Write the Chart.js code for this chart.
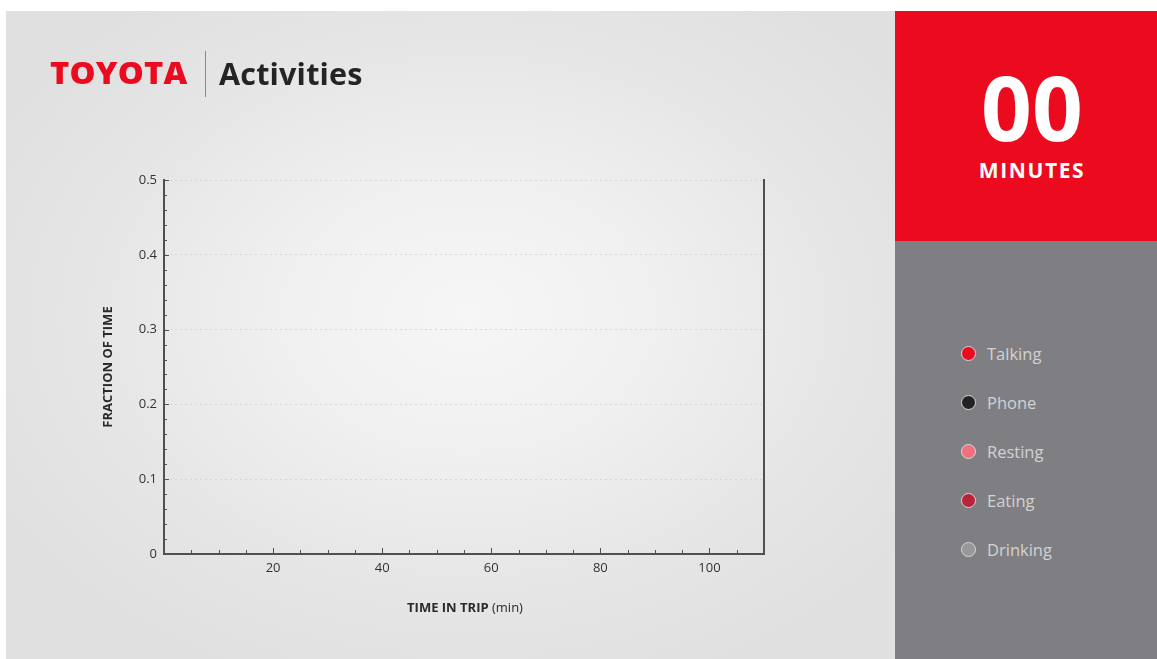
<!DOCTYPE html>
<html>
<head>
<meta charset="utf-8">
<script src="https://cdn.jsdelivr.net/npm/chart.js@4.4.1/dist/chart.umd.min.js"></script>
<style>
  html, body { margin:0; padding:0; background:#fff; width:1157px; height:659px; overflow:hidden; font-family:"Open Sans", sans-serif; }
  #left { position:absolute; left:6px; top:11px; width:889px; height:648px;
    background: radial-gradient(ellipse 60% 60% at 52% 47%, #f6f6f6 0%, #f0f0f0 35%, #e7e6e7 70%, #e1e0e1 100%); }
  #toyota { position:absolute; left:44px; top:42px; line-height:40px; color:#eb0a1e; font-weight:800; font-size:30px; letter-spacing:0.2px; transform:scaleX(1.09); transform-origin:0 50%; white-space:nowrap; }
  #sep { position:absolute; left:199px; top:40px; width:1px; height:46px; background:#8a8a8a; }
  #title { position:absolute; left:213px; top:42px; line-height:40px; color:#242424; font-weight:700; font-size:30.5px; letter-spacing:0.2px; white-space:nowrap; }
  #chartWrap { position:absolute; left:0; top:0; width:889px; height:648px; }
  #red { position:absolute; left:895px; top:11px; width:262px; height:230px; background:#ec0a1f; color:#fff; text-align:center; }
  #count { position:absolute; left:6px; width:262px; top:53px; font-size:89px; font-weight:700; line-height:86px; letter-spacing:0px; }
  #mins { position:absolute; left:6px; width:262px; top:147px; font-size:21px; font-weight:700; line-height:24px; letter-spacing:1.6px; }
  #grey { position:absolute; left:895px; top:241px; width:262px; height:418px; background:#7f7f83; }
  .li { position:absolute; left:66px; height:20px; display:flex; align-items:center; color:#d2d2d2; font-size:16.5px; }
  .dot { width:13px; height:13px; border-radius:50%; border:1.5px solid #d8d8d8; margin-right:11px; box-sizing:content-box; }
</style>
</head>
<body>
<div id="left">
  <div id="chartWrap"><canvas id="c" width="889" height="648"></canvas></div>
  <span id="toyota">TOYOTA</span><span id="sep"></span><span id="title">Activities</span>
</div>
<div id="red"><div id="count">00</div><div id="mins">MINUTES</div></div>
<div id="grey"></div>
<script>
// ---- data ----
const seriesNames = ["Talking", "Phone", "Resting", "Eating", "Drinking"];
const seriesColors = ["#ec0a1f", "#222224", "#f2707e", "#b8223a", "#98989a"];
// At 00 minutes no activity data has been plotted yet
const talkingValues = [];
const phoneValues = [];
const restingValues = [];
const eatingValues = [];
const drinkingValues = [];
const xTickLabels = [20, 40, 60, 80, 100];
const yTickLabels = [0, 0.1, 0.2, 0.3, 0.4, 0.5];
const minutesShown = "00";

const seriesValues = [talkingValues, phoneValues, restingValues, eatingValues, drinkingValues];
document.getElementById('count').textContent = minutesShown;

const axisColor = '#505050';
const near = (a, b) => Math.abs(a - b) < 1e-6;

const ticksPlugin = {
  id: 'innerTicks',
  afterDraw(chart) {
    const ctx = chart.ctx, xs = chart.scales.x, ys = chart.scales.y;
    ctx.save();
    ctx.strokeStyle = axisColor;
    ctx.lineWidth = 1;
    const bottom = ys.getPixelForValue(0), left = xs.getPixelForValue(0);
    for (let v = 5; v < 110; v += 5) {
      const px = Math.round(xs.getPixelForValue(v)) + 0.5;
      const len = xTickLabels.includes(v) ? 6 : 4;
      ctx.beginPath(); ctx.moveTo(px, bottom); ctx.lineTo(px, bottom - len); ctx.stroke();
    }
    for (let i = 1; i <= 25; i++) {
      const v = i * 0.02;
      const py = Math.round(ys.getPixelForValue(v)) + 0.5;
      const major = yTickLabels.some(t => near(t, v));
      ctx.beginPath(); ctx.moveTo(left, py); ctx.lineTo(left + (major ? 5 : 3), py); ctx.stroke();
    }
    // x-axis title (mixed weight)
    const cx = (xs.left + xs.right) / 2 + 1;
    const ty = xs.bottom - 7;
    ctx.fillStyle = '#2a2a2a';
    ctx.textBaseline = 'middle';
    ctx.font = 'bold 13px "Open Sans"';
    const b = 'TIME IN TRIP';
    const n = ' (min)';
    const wb = ctx.measureText(b).width;
    ctx.font = '13px "Open Sans"';
    const wn = ctx.measureText(n).width;
    let sx = cx - (wb + wn) / 2;
    ctx.font = 'bold 13px "Open Sans"';
    ctx.textAlign = 'left';
    ctx.fillText(b, sx, ty);
    ctx.font = '13px "Open Sans"';
    ctx.fillText(n, sx + wb, ty);
    ctx.restore();
  }
};

const chart = new Chart(document.getElementById('c'), {
  type: 'line',
  data: {
    datasets: seriesNames.map((name, i) => ({
      label: name,
      data: seriesValues[i],
      borderColor: seriesColors[i],
      backgroundColor: seriesColors[i],
      pointRadius: 0,
      borderWidth: 2
    }))
  },
  options: {
    responsive: false,
    animation: false,
    layout: { padding: { left: 90, right: 131, top: 169, bottom: 44 } },
    plugins: { legend: { display: false }, tooltip: { enabled: false } },
    scales: {
      x: {
        type: 'linear', min: 0, max: 110,
        afterFit(s) { s.height = 61; },
        border: { display: true, color: axisColor, width: 2 },
        grid: { drawOnChartArea: false, drawTicks: false },
        ticks: {
          stepSize: 5, padding: 6, color: '#333', font: { family: 'Open Sans', size: 13 },
          maxRotation: 0, autoSkip: false,
          callback: v => xTickLabels.includes(v) ? String(v) : ''
        }
      },
      y: {
        type: 'linear', min: 0, max: 0.5,
        afterFit(s) { s.width = 68; },
        grid: {
          drawTicks: false,
          color: ctx => (ctx.tick && ctx.tick.value > 0 && yTickLabels.some(t => near(t, ctx.tick.value))) ? '#d6d6d6' : 'rgba(0,0,0,0)',
          lineWidth: 1
        },
        border: { display: true, color: axisColor, width: 2, dash: [2, 3] },
        ticks: {
          stepSize: 0.02, padding: 7, color: '#333', font: { family: 'Open Sans', size: 13 },
          autoSkip: false,
          callback: v => { const m = yTickLabels.find(t => near(t, v)); return m === undefined ? '' : (m === 0 ? '0' : m.toFixed(1)); }
        },
        title: { display: true, text: 'FRACTION OF TIME', color: '#2a2a2a', font: { family: 'Open Sans', size: 13, weight: 'bold' }, padding: { top: 4, bottom: 0 } }
      },
      y2: {
        type: 'linear', position: 'right', min: 0, max: 0.5,
        afterFit(s) { s.width = 0; },
        border: { display: true, color: axisColor, width: 2 },
        grid: { display: false, drawOnChartArea: false },
        ticks: { display: false }
      }
    }
  },
  plugins: [ticksPlugin]
});

// legend built from the chart's datasets
const grey = document.getElementById('grey');
const tops = [102, 151, 200, 249, 298];
chart.data.datasets.forEach((ds, i) => {
  const li = document.createElement('div');
  li.className = 'li';
  li.style.top = tops[i] + 'px';
  const dot = document.createElement('span');
  dot.className = 'dot';
  dot.style.background = ds.backgroundColor;
  const t = document.createElement('span');
  t.textContent = ds.label;
  li.appendChild(dot); li.appendChild(t);
  grey.appendChild(li);
});
</script>
</body>
</html>
